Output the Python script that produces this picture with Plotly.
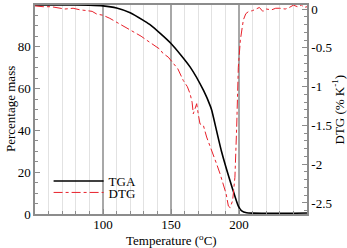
import plotly.graph_objects as go

# TGA (percentage mass, left axis)
tga_T = [50, 70, 90, 100, 110, 120, 130, 135, 150, 164, 174, 179, 180, 187, 195, 199.5, 202, 205.6, 210, 220, 230, 240, 250]
tga_m = [100, 100, 99.9, 99.6, 98.6, 96.3, 92.5, 90.4, 81.6, 70.4, 59, 51.5, 49.5, 30.3, 12.6, 3.8, 1.5, 0.6, 0.4, 0.3, 0.3, 0.35, 0.5]

# DTG (% K^-1, right axis)
dtg_T = [50, 56, 62, 66, 72, 78, 83, 88, 92, 95.4, 100, 105, 110, 115, 120, 125, 128, 132, 136, 139.5, 142, 144, 148, 151.7,
         155, 159, 162, 164, 165.5, 166.4, 167.5, 168.9, 170, 171.3, 172.5, 173.8, 176.2, 180, 183.6, 186, 188.5, 190.5,
         192.2, 193.5, 195.3, 196.2, 197, 198.3, 199.5, 201, 203.2, 205, 206.8, 210, 213, 215, 217.5, 220, 224, 227, 230,
         234, 237, 240, 243, 246, 248, 250]
dtg_v = [0.04, 0.03, 0.03, 0.02, 0.0, 0.01, -0.01, -0.02, -0.03, -0.065, -0.08, -0.12, -0.17, -0.21, -0.27, -0.31, -0.35, -0.40, -0.45, -0.49,
         -0.52, -0.57, -0.62, -0.70, -0.77, -0.92, -1.0, -1.09, -1.2, -1.35, -1.28, -1.22, -1.35, -1.48, -1.49, -1.50, -1.65, -1.82, -2.0, -2.12, -2.26, -2.38,
         -2.54, -2.56, -2.47, -2.35, -2.17, -1.52, -0.75, -0.40, -0.14, -0.06, -0.035, -0.02, 0.01, 0.02, -0.03, 0.0, -0.01, 0.01, 0.01,
         0.0, 0.02, 0.05, 0.03, 0.05, 0.02, 0.03]

x_ticks = [100, 150, 200]
y_ticks = [0, 20, 40, 60, 80, 100]
y2_ticks = [0, -0.5, -1, -1.5, -2, -2.5]
y2_text = ["0", "-0.5", "-1", "-1.5", "-2", "-2.5"]

FAM = "Liberation Serif, Times New Roman, Times, serif"
axcol = "#8c8c8c"

def f(size=13):
    return dict(family=FAM, size=size, color="black")

fig = go.Figure()
fig.add_trace(go.Scatter(x=tga_T, y=tga_m, mode="lines", name="TGA", legend="legend",
                         line=dict(color="black", width=1.6, shape="spline", smoothing=0.6)))
fig.add_trace(go.Scatter(x=dtg_T, y=dtg_v, mode="lines", name="DTG", yaxis="y2", legend="legend2",
                         line=dict(color="#e8202a", width=1, dash="dashdot")))

leg_common = dict(xanchor="left", yanchor="middle", bgcolor="rgba(0,0,0,0)",
                  font=f(), itemwidth=50, borderwidth=0)

fig.update_layout(
    width=347, height=248, margin=dict(l=35, r=40, t=5, b=34, autoexpand=False),
    paper_bgcolor="white", plot_bgcolor="white", font=f(),
    showlegend=True,
    legend=dict(x=0.05, y=0.158, **leg_common),
    legend2=dict(x=0.05, y=0.103, **leg_common),
    xaxis=dict(range=[50, 250], tickvals=x_ticks, ticks="inside", ticklen=5, tickcolor=axcol,
               showline=True, linecolor=axcol, linewidth=1.5, mirror=True, automargin=False,
               showgrid=True, gridcolor="#a8a8a8", gridwidth=1.5, zeroline=False, ticklabelstandoff=-2,
               minor=dict(dtick=10, tick0=50, ticks="inside", ticklen=3, tickcolor=axcol, showgrid=True, gridcolor="#e2e2e2", gridwidth=1),
               tickfont=f()),
    yaxis=dict(range=[0, 100], tickvals=y_ticks, ticks="inside", ticklen=5, tickcolor=axcol, automargin=False,
               showline=True, linecolor=axcol, linewidth=1.5, showgrid=False, zeroline=False,
               minor=dict(dtick=5, ticks="inside", ticklen=3, tickcolor=axcol),
               tickfont=f()),
    yaxis2=dict(range=[-2.642, 0.052], overlaying="y", side="right", tickvals=y2_ticks, ticktext=y2_text,
                ticks="inside", ticklen=5, tickcolor=axcol, showline=True, linecolor=axcol, linewidth=1.5,
                showgrid=False, zeroline=False, automargin=False,
                minor=dict(dtick=0.1, tick0=0, ticks="inside", ticklen=3, tickcolor=axcol),
                tickfont=f()),
    annotations=[
        dict(text="Temperature (<sup>o</sup>C)", xref="paper", yref="paper", x=0.5, y=-0.126, xanchor="center",
             yanchor="middle", showarrow=False, font=f()),
        dict(text="Percentage mass", xref="paper", yref="paper", x=-0.09, y=0.5, xanchor="center",
             yanchor="middle", showarrow=False, textangle=-90, font=f()),
        dict(text="DTG (% K<sup>-1</sup>)", xref="paper", yref="paper", x=1.114, y=0.5, xanchor="center",
             yanchor="middle", showarrow=False, textangle=-90, font=f()),
    ],
)

fig.write_html("out.html", config={"displayModeBar": False},
               post_script="document.body.style.margin='0';document.body.style.padding='0';")
